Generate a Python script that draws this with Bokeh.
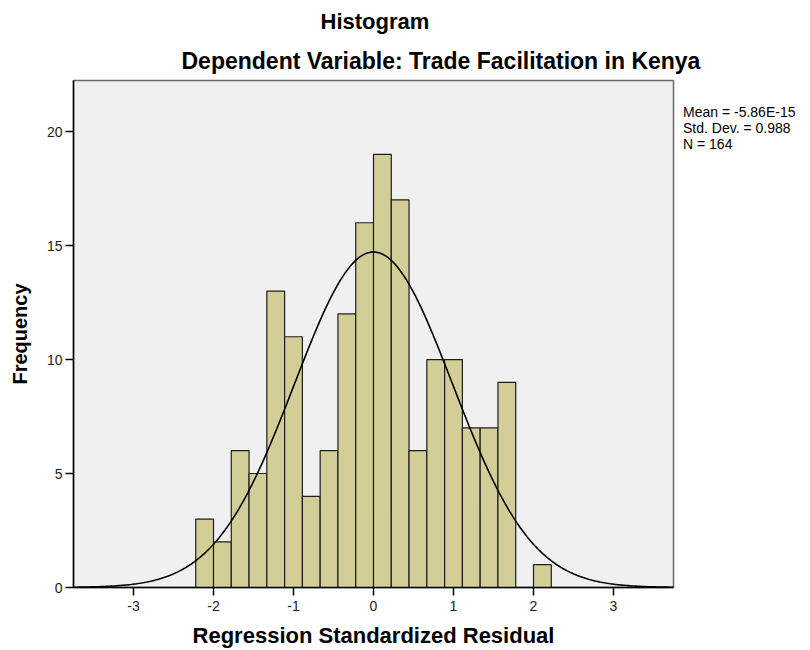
import numpy as np
from bokeh.plotting import figure
from bokeh.models import Range1d, FixedTicker, ColumnDataSource, Title, Legend, LegendItem
from bokeh.embed import file_html
from bokeh.resources import INLINE

# ---- data ----
counts = [3, 2, 6, 5, 13, 11, 4, 6, 12, 16, 19, 17, 6, 10, 10, 7, 7, 9, 0, 1]
bin_width = 2 / 9
bin_start = -20 / 9
mean_val = -5.86e-15
sd_val = 0.988
n_val = 164
x_ticks = [-3, -2, -1, 0, 1, 2, 3]
y_ticks = [0, 5, 10, 15, 20]
title1 = "Histogram"
title2 = "Dependent Variable: Trade Facilitation in Kenya"
x_label = "Regression Standardized Residual"
y_label = "Frequency"
stats_lines = ["Mean = -5.86E-15", "Std. Dev. = 0.988", "N = 164"]

FONT = "Liberation Sans"

lefts = [bin_start + i * bin_width for i in range(len(counts))]
rights = [l + bin_width for l in lefts]
src = ColumnDataSource(dict(left=lefts, right=rights, top=counts, bottom=[0] * len(counts)))

p = figure(frame_width=600, frame_height=507,
           min_border_left=73, min_border_right=135, min_border_top=80, min_border_bottom=61,
           x_range=Range1d(-3.75, 3.75), y_range=Range1d(0, 22.24),
           output_backend="svg", toolbar_location=None, tools="")

p.background_fill_color = "#f0f0f0"
p.border_fill_color = "white"
p.outline_line_color = "#6a6a6a"
p.outline_line_width = 1.5
p.grid.visible = False

p.quad(left="left", right="right", top="top", bottom="bottom", source=src,
       fill_color="#d3ce97", line_color="#1e1e1e", line_width=1.2)

xs = np.linspace(-3.75, 3.75, 400)
ys = n_val * bin_width / (sd_val * np.sqrt(2 * np.pi)) * np.exp(-0.5 * ((xs - mean_val) / sd_val) ** 2)
p.line(xs, ys, line_color="black", line_width=1.6)

for ax in (p.xaxis[0], p.yaxis[0]):
    ax.axis_line_color = "black"
    ax.axis_line_width = 1.5
    ax.major_tick_line_color = "black"
    ax.major_tick_line_width = 1.5
    ax.major_tick_out = 8
    ax.major_tick_in = 0
    ax.minor_tick_line_color = None
    ax.major_label_text_font = FONT
    ax.major_label_text_font_size = "14px"
    ax.major_label_text_color = "#222222"
    ax.axis_label_text_font = FONT
    ax.axis_label_text_font_style = "bold"
    ax.axis_label_text_color = "black"

p.xaxis.ticker = FixedTicker(ticks=x_ticks)
p.yaxis.ticker = FixedTicker(ticks=y_ticks)
p.xaxis.major_label_overrides = {t: str(t) for t in x_ticks}
p.yaxis.major_label_overrides = {t: str(t) for t in y_ticks}
p.xaxis.axis_label = x_label
p.yaxis.axis_label = y_label
p.xaxis.axis_label_text_font_size = "22px"
p.yaxis.axis_label_text_font_size = "20px"
p.xaxis.major_label_standoff = 5
p.xaxis.axis_label_standoff = 9
p.yaxis.major_label_standoff = 3
p.yaxis.axis_label_standoff = 13

# titles (later-added titles sit farther from the frame)
p.add_layout(Title(text=title2, align="left", offset=108, standoff=13,
                   text_font=FONT, text_font_style="bold", text_font_size="23px",
                   text_color="black"), "above")
p.add_layout(Title(text=title1, align="left", offset=247, standoff=12,
                   text_font=FONT, text_font_style="bold", text_font_size="22px",
                   text_color="black"), "above")

# statistics box text, shown through a glyph-less legend on the right
dummy = p.scatter(x=[np.nan], y=[np.nan], size=0, alpha=0)
legend = Legend(items=[LegendItem(label=s, renderers=[dummy]) for s in stats_lines],
                location=(0, 435), margin=0, padding=0, spacing=-2,
                glyph_width=0, glyph_height=14, label_height=14, label_standoff=10,
                label_text_font=FONT, label_text_font_size="14px", label_text_color="black",
                background_fill_alpha=0, border_line_color=None)
p.add_layout(legend, "right")

open("out.html", "w").write(file_html(p, INLINE))
